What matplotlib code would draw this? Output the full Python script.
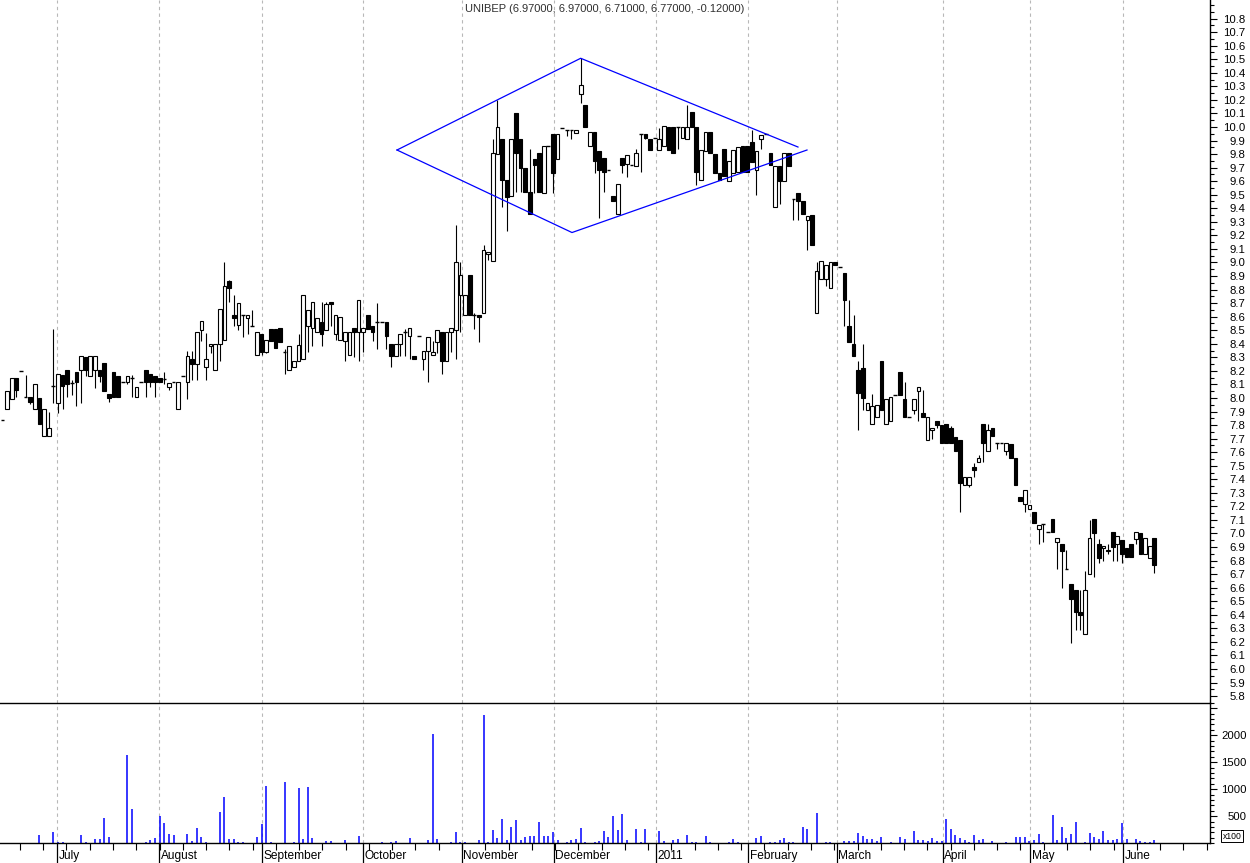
import matplotlib
matplotlib.use("Agg")
import matplotlib.pyplot as plt
import matplotlib.transforms as mtransforms
import numpy as np

plt.rcParams['font.family'] = ['Liberation Sans', 'DejaVu Sans']

title = "UNIBEP (6.97000, 6.97000, 6.71000, 6.77000, -0.12000)"

opens = [7.84, 7.92, 7.99, 8.15, 8.20, 8.01, 8.005, 7.92, 8.00, 7.72,
         7.72, 8.09, 7.96, 8.17, 8.21, 8.11, 8.19, 8.21, 8.30, 8.16,
         8.21, 8.21, 8.26, 8.03, 8.19, 8.16, 8.12, 8.12, 8.15, 8.01,
         8.12, 8.21, 8.18, 8.16, 8.15, 8.14, 8.08, 8.12, 7.92, 8.16,
         8.12, 8.29, 8.25, 8.50, 8.23, 8.38, 8.21, 8.40, 8.43, 8.86,
         8.61, 8.54, 8.61, 8.59, 8.53, 8.32, 8.47, 8.34, 8.51, 8.51,
         8.52, 8.34, 8.21, 8.23, 8.27, 8.29, 8.53, 8.52, 8.49, 8.56,
         8.50, 8.71, 8.47, 8.43, 8.42, 8.32, 8.52, 8.49, 8.49, 8.61,
         8.53, 8.56, 8.56, 8.56, 8.40, 8.31, 8.40, 8.49, 8.46, 8.31,
         8.46, 8.29, 8.35, 8.32, 8.41, 8.49, 8.27, 8.49, 8.50, 8.76,
         8.61, 8.91, 8.61, 8.61, 8.63, 9.06, 9.01, 9.80, 9.91, 9.61,
         9.49, 10.10, 9.91, 9.70, 9.52, 9.76, 9.81, 9.51, 9.86, 9.95,
         9.76, 9.99, 9.98, 9.98, 9.955, 10.24, 10.16, 9.86, 9.96, 9.82,
         9.77, 9.68, 9.49, 9.36, 9.77, 9.73, 9.72, 9.71, 9.95, 9.95,
         9.91, 9.92, 9.83, 9.86, 10.00, 10.00, 10.00, 9.92, 9.91, 10.11,
         10.00, 9.61, 9.82, 9.96, 9.80, 9.66, 9.84, 9.60, 9.66, 9.67,
         9.86, 9.86, 9.89, 9.68, 9.91, 9.95, 9.81, 9.41, 9.71, 9.60,
         9.81, 9.47, 9.51, 9.45, 9.31, 9.35, 8.63, 8.88, 8.88, 8.81,
         9.00, 8.97, 8.92, 8.53, 8.40, 8.21, 8.22, 7.91, 7.81, 7.86,
         8.27, 7.81, 7.83, 8.02, 8.19, 7.99, 7.86, 7.91, 8.05, 7.89,
         7.69, 7.76, 7.83, 7.80, 7.81, 7.78, 7.71, 7.69, 7.36, 7.36,
         7.49, 7.53, 7.81, 7.61, 7.78, 7.67, 7.67, 7.61, 7.66, 7.56,
         7.27, 7.22, 7.18, 7.16, 7.03, 7.07, 7.01, 7.11, 6.94, 6.92,
         6.74, 6.63, 6.58, 6.42, 6.26, 6.70, 7.11, 6.92, 6.89, 6.88,
         7.01, 6.92, 6.95, 6.89, 6.92, 6.96, 7.00, 6.85, 6.82, 6.97]

highs = [7.84, 8.05, 8.15, 8.15, 8.20, 8.17, 8.005, 8.10, 8.00, 7.92,
         7.90, 8.51, 8.18, 8.17, 8.21, 8.13, 8.19, 8.31, 8.30, 8.31,
         8.31, 8.21, 8.26, 8.03, 8.19, 8.16, 8.12, 8.16, 8.17, 8.08,
         8.12, 8.21, 8.18, 8.16, 8.15, 8.19, 8.11, 8.12, 8.12, 8.16,
         8.35, 8.35, 8.49, 8.57, 8.48, 8.40, 8.40, 8.66, 9.00, 8.87,
         8.76, 8.70, 8.61, 8.61, 8.65, 8.49, 8.47, 8.43, 8.51, 8.51,
         8.52, 8.36, 8.38, 8.27, 8.47, 8.76, 8.65, 8.71, 8.59, 8.71,
         8.71, 8.71, 8.61, 8.60, 8.49, 8.49, 8.52, 8.72, 8.52, 8.61,
         8.53, 8.70, 8.56, 8.56, 8.40, 8.40, 8.47, 8.51, 8.52, 8.31,
         8.46, 8.35, 8.45, 8.42, 8.50, 8.49, 8.49, 8.52, 9.28, 9.00,
         8.76, 8.91, 8.63, 8.61, 9.13, 9.08, 9.91, 10.20, 9.91, 9.61,
         9.91, 10.10, 9.91, 9.70, 9.84, 9.76, 9.81, 9.86, 9.86, 9.95,
         9.95, 9.99, 9.98, 9.98, 9.98, 10.51, 10.16, 9.96, 9.96, 9.82,
         9.77, 9.68, 9.49, 9.58, 9.77, 9.79, 9.72, 9.84, 9.95, 9.95,
         9.91, 9.92, 9.99, 10.01, 10.00, 10.00, 10.00, 10.00, 10.16, 10.11,
         10.00, 9.83, 9.96, 9.96, 9.80, 9.66, 9.84, 9.75, 9.83, 9.85,
         9.86, 9.86, 9.98, 9.82, 9.94, 9.95, 9.81, 9.71, 9.71, 9.81,
         9.81, 9.47, 9.51, 9.45, 9.34, 9.35, 9.00, 9.01, 8.98, 9.00,
         9.00, 8.97, 8.92, 8.72, 8.61, 8.27, 8.40, 7.96, 8.03, 7.95,
         8.27, 7.99, 8.01, 8.02, 8.19, 8.12, 7.86, 7.99, 8.08, 8.06,
         7.86, 7.78, 7.83, 7.80, 7.81, 7.79, 7.71, 7.69, 7.42, 7.42,
         7.52, 7.58, 7.81, 7.81, 7.78, 7.67, 7.67, 7.67, 7.66, 7.56,
         7.27, 7.32, 7.21, 7.16, 7.06, 7.07, 7.01, 7.11, 6.97, 6.92,
         6.88, 6.63, 6.58, 6.58, 6.72, 7.10, 7.11, 6.96, 6.91, 6.92,
         7.01, 6.98, 6.95, 6.89, 6.92, 7.01, 7.00, 6.97, 6.91, 6.97]

lows = [7.84, 7.92, 7.99, 8.01, 8.20, 8.01, 7.956, 7.92, 7.81, 7.72,
        7.72, 7.96, 7.89, 7.92, 8.01, 8.02, 7.94, 7.96, 8.16, 8.16,
        8.07, 8.12, 8.05, 7.97, 8.01, 8.01, 8.12, 8.10, 8.01, 8.01,
        8.12, 8.01, 8.08, 8.01, 8.12, 8.10, 8.06, 8.12, 7.92, 8.16,
        7.99, 8.13, 8.13, 8.42, 8.13, 8.33, 8.21, 8.27, 8.43, 8.71,
        8.53, 8.50, 8.45, 8.47, 8.53, 8.32, 8.32, 8.33, 8.42, 8.37,
        8.41, 8.18, 8.21, 8.23, 8.27, 8.29, 8.34, 8.38, 8.49, 8.38,
        8.50, 8.53, 8.43, 8.43, 8.27, 8.32, 8.30, 8.27, 8.34, 8.51,
        8.42, 8.36, 8.56, 8.36, 8.23, 8.31, 8.31, 8.31, 8.29, 8.29,
        8.46, 8.21, 8.12, 8.32, 8.33, 8.18, 8.27, 8.34, 8.29, 8.49,
        8.61, 8.61, 8.51, 8.41, 8.63, 9.02, 9.01, 9.80, 9.41, 9.23,
        9.49, 9.52, 9.52, 9.52, 9.36, 9.51, 9.52, 9.51, 9.86, 9.51,
        9.76, 9.99, 9.93, 9.91, 9.955, 10.18, 10.00, 9.86, 9.66, 9.33,
        9.52, 9.68, 9.45, 9.36, 9.66, 9.63, 9.72, 9.71, 9.67, 9.91,
        9.83, 9.92, 9.83, 9.86, 9.83, 9.81, 9.84, 9.92, 9.91, 10.00,
        9.57, 9.61, 9.82, 9.81, 9.66, 9.61, 9.64, 9.60, 9.66, 9.67,
        9.67, 9.67, 9.74, 9.50, 9.84, 9.95, 9.72, 9.41, 9.43, 9.60,
        9.71, 9.31, 9.31, 9.36, 9.09, 9.13, 8.63, 8.88, 8.83, 8.81,
        8.98, 8.97, 8.53, 8.41, 8.31, 7.76, 7.91, 7.91, 7.81, 7.86,
        7.91, 7.81, 7.83, 8.02, 8.02, 7.86, 7.86, 7.88, 7.83, 7.86,
        7.69, 7.70, 7.78, 7.67, 7.67, 7.67, 7.61, 7.16, 7.36, 7.34,
        7.42, 7.53, 7.53, 7.61, 7.72, 7.62, 7.67, 7.58, 7.56, 7.36,
        7.24, 7.16, 7.18, 7.08, 6.92, 6.94, 7.01, 7.01, 6.74, 6.60,
        6.74, 6.19, 6.29, 6.29, 6.26, 6.70, 6.68, 6.78, 6.80, 6.85,
        6.80, 6.80, 6.78, 6.83, 6.83, 6.92, 6.85, 6.85, 6.82, 6.71]

closes = [7.84, 8.05, 8.15, 8.06, 8.20, 8.01, 7.973, 8.10, 7.81, 7.92,
          7.78, 8.09, 8.18, 8.09, 8.10, 8.11, 8.12, 8.31, 8.21, 8.31,
          8.31, 8.16, 8.05, 8.00, 8.01, 8.01, 8.12, 8.16, 8.15, 8.08,
          8.12, 8.12, 8.12, 8.12, 8.12, 8.14, 8.11, 8.12, 8.12, 8.16,
          8.31, 8.25, 8.49, 8.57, 8.29, 8.40, 8.40, 8.66, 8.83, 8.81,
          8.59, 8.70, 8.61, 8.61, 8.53, 8.49, 8.34, 8.43, 8.42, 8.37,
          8.41, 8.34, 8.38, 8.27, 8.39, 8.76, 8.65, 8.71, 8.59, 8.47,
          8.69, 8.69, 8.61, 8.60, 8.49, 8.49, 8.49, 8.72, 8.52, 8.51,
          8.49, 8.56, 8.56, 8.46, 8.31, 8.40, 8.47, 8.49, 8.52, 8.29,
          8.46, 8.35, 8.45, 8.34, 8.50, 8.27, 8.49, 8.52, 9.00, 8.91,
          8.76, 8.61, 8.61, 8.60, 9.09, 9.08, 9.81, 10.00, 9.61, 9.48,
          9.91, 9.81, 9.70, 9.52, 9.36, 9.72, 9.52, 9.86, 9.86, 9.66,
          9.95, 9.99, 9.98, 9.98, 9.98, 10.31, 10.00, 9.96, 9.75, 9.68,
          9.67, 9.68, 9.45, 9.58, 9.72, 9.79, 9.72, 9.81, 9.95, 9.92,
          9.83, 9.92, 9.91, 10.01, 9.83, 9.81, 10.00, 10.00, 10.00, 10.00,
          9.67, 9.83, 9.96, 9.81, 9.66, 9.61, 9.64, 9.75, 9.83, 9.85,
          9.67, 9.67, 9.74, 9.82, 9.94, 9.95, 9.72, 9.71, 9.60, 9.81,
          9.71, 9.47, 9.45, 9.36, 9.34, 9.13, 8.94, 9.01, 8.98, 9.00,
          8.98, 8.97, 8.72, 8.41, 8.31, 8.04, 8.00, 7.96, 7.94, 7.95,
          7.91, 7.99, 8.01, 8.02, 8.02, 7.86, 7.86, 7.99, 8.08, 7.86,
          7.86, 7.78, 7.80, 7.67, 7.67, 7.67, 7.61, 7.37, 7.42, 7.42,
          7.47, 7.56, 7.67, 7.76, 7.72, 7.67, 7.67, 7.67, 7.56, 7.36,
          7.24, 7.32, 7.21, 7.08, 7.06, 7.07, 7.01, 7.01, 6.97, 6.87,
          6.74, 6.52, 6.42, 6.40, 6.58, 6.97, 7.00, 6.82, 6.91, 6.87,
          6.90, 6.98, 6.85, 6.83, 6.83, 7.01, 6.85, 6.97, 6.91, 6.77]

vol_idx = [8, 11, 12, 13, 17, 18, 20, 21, 22, 23, 27, 28, 31, 32, 33, 34, 35, 36, 37,
           40, 41, 42, 43, 44, 47, 48, 49, 50, 51, 52, 55, 56, 57, 58, 61, 63, 64, 65,
           66, 67, 70, 71, 74, 77, 82, 84, 85, 88, 92, 93, 94, 97, 98, 99, 100, 103,
           104, 105, 106, 107, 108, 109, 110, 111, 112, 113, 114, 115, 116, 117, 118,
           119, 120, 122, 123, 124, 125, 126, 128, 129, 130, 131, 132, 133, 134, 135,
           137, 138, 139, 142, 143, 145, 146, 148, 149, 150, 152, 153, 157, 158, 159,
           163, 164, 166, 167, 168, 169, 170, 171, 173, 174, 176, 178, 179, 182, 183,
           184, 185, 186, 187, 188, 189, 190, 192, 194, 195, 197, 198, 199, 200, 201,
           202, 203, 204, 205, 206, 207, 208, 209, 210, 211, 212, 214, 217, 219, 220,
           221, 222, 223, 224, 225, 227, 228, 229, 230, 231, 232, 234, 235, 236, 237,
           238, 239, 240, 241, 242, 243, 245, 246, 247, 248, 249]
vol_val = [154, 209, 30, 18, 154, 18, 80, 80, 474, 117, 1633, 635, 18, 62, 105, 505, 376, 166, 154,
           172, 43, 283, 117, 18, 580, 857, 80, 80, 30, 30, 117, 357, 1060, 18, 1134, 18, 1023, 80,
           1042, 99, 43, 43, 62, 136, 18, 18, 43, 99, 62, 2022, 80, 18, 209, 18, 18, 62,
           2374, 18, 246, 105, 450, 62, 302, 431, 62, 117, 136, 136, 394, 136, 136,
           209, 62, 18, 62, 80, 283, 18, 18, 43, 228, 117, 505, 246, 542, 62,
           265, 18, 265, 228, 43, 62, 80, 154, 18, 18, 136, 18, 18, 80, 18,
           99, 136, 18, 18, 62, 99, 18, 18, 302, 265, 561, 18, 18, 43, 43,
           43, 191, 136, 80, 80, 43, 117, 18, 117, 80, 228, 62, 62, 43, 99,
           43, 43, 450, 265, 154, 99, 62, 18, 154, 62, 80, 43, 18, 117, 117,
           117, 43, 62, 172, 18, 524, 62, 302, 99, 172, 394, 18, 191, 117, 80,
           228, 62, 62, 80, 376, 80, 80, 43, 18, 18, 62]

month_labels = ["July", "August", "September", "October", "November", "December",
                "2011", "February", "March", "April", "May", "June"]
month_pos = [11.86, 33.9, 56.04, 78.0, 99.27, 119.16, 141.2, 161.23, 180.3, 203.25, 222.2, 242.3]

# diamond pattern (bar index, price)
diamond_x = [85.29, 125.0, 171.97]
diamond_y = [9.83, 10.507, 9.852]
diamond_x2 = [85.29, 123.12, 173.92]
diamond_y2 = [9.83, 9.221, 9.83]

assert len(opens) == len(highs) == len(lows) == len(closes) == 250
assert len(vol_idx) == len(vol_val)

W, H = 1250, 863
fig = plt.figure(figsize=(W / 100, H / 100), dpi=100)
fig.patch.set_facecolor('white')

axr = 1210 / W
ax = fig.add_axes([0, (H - 703) / H, axr, 703 / H])
axv = fig.add_axes([0, (H - 843.3) / H, axr, 140.3 / H], sharex=ax)

xmin, xmax = -0.53, 261.04
ax.set_xlim(xmin, xmax)
ax.set_ylim(5.749, 10.937)
axv.set_ylim(0, 2596)

x = np.arange(len(opens))
o = np.array(opens); c = np.array(closes); hi = np.array(highs); lo = np.array(lows)

# grid lines (month separators)
for a in (ax, axv):
    for mp in month_pos:
        a.axvline(mp, color='#b8b8b8', lw=0.8, ls=(0, (3, 3)), zorder=0)

# wicks
ax.vlines(x, lo, hi, color='black', lw=0.8, zorder=1)

bw = 0.8
doji = np.abs(c - o) < 0.004
up = (c > o) & ~doji
dn = (c < o) & ~doji
ax.bar(x[up], (c - o)[up], bottom=o[up], width=bw, facecolor='white',
       edgecolor='black', linewidth=0.8, zorder=2)
ax.bar(x[dn], (o - c)[dn], bottom=c[dn], width=bw, facecolor='black',
       edgecolor='black', linewidth=0.8, zorder=2)
ax.hlines(o[doji], x[doji] - bw / 2, x[doji] + bw / 2, color='black', lw=1.0, zorder=2)

# diamond
ax.plot(diamond_x, diamond_y, color='#0000ff', lw=0.9, zorder=3)
ax.plot(diamond_x2, diamond_y2, color='#0000ff', lw=0.9, zorder=3)

# volume
axv.vlines(vol_idx, 0, vol_val, color='#0000ff', lw=1.1, zorder=2)

# spines
for a in (ax, axv):
    a.spines['left'].set_visible(False)
    a.spines['top'].set_visible(False)
    a.spines['right'].set_linewidth(1.0)
    a.spines['bottom'].set_linewidth(1.0)
    a.set_facecolor('none')

# price axis ticks
ax.yaxis.tick_right()
ax.set_yticks(np.round(np.arange(5.8, 10.81, 0.1), 2))
ax.set_yticks(np.round(np.arange(5.75, 10.91, 0.05), 2), minor=True)
ax.set_yticklabels([f"{v:.1f}" for v in np.arange(5.8, 10.81, 0.1)])
ax.tick_params(axis='y', which='major', direction='out', length=5, width=0.8,
               labelsize=8.2, pad=20.5, colors='black')
ax.tick_params(axis='y', which='minor', direction='out', length=2.8, width=0.8)
for lbl in ax.get_yticklabels():
    lbl.set_horizontalalignment('right')
ax.tick_params(axis='x', which='both', bottom=False, labelbottom=False)

# volume axis ticks
axv.yaxis.tick_right()
axv.set_yticks([500, 1000, 1500, 2000, 2500])
axv.set_yticklabels(["500", "1000", "1500", "2000", ""])
axv.set_yticks(np.arange(0, 2600, 100), minor=True)
axv.tick_params(axis='y', which='major', direction='out', length=5, width=0.8,
                labelsize=8.2, pad=21.5)
axv.tick_params(axis='y', which='minor', direction='out', length=2.8, width=0.8)
for lbl in axv.get_yticklabels():
    lbl.set_horizontalalignment('right')

axv.set_xticks(month_pos)
axv.set_xticks(np.arange(3.77, 261, 5.03), minor=True)
axv.tick_params(axis='x', which='major', direction='out', length=15, width=0.9,
                labelbottom=False)
axv.tick_params(axis='x', which='minor', direction='out', length=5, width=0.8)

trans = mtransforms.blended_transform_factory(axv.transData, axv.transAxes)
for mp, lab in zip(month_pos, month_labels):
    axv.text(mp + 0.35, -0.092, lab, transform=trans, ha='left', va='center',
             fontsize=8.6, color='black')

axv.text(1.0105, 0.05, "x100", transform=axv.transAxes, ha='left', va='center',
         fontsize=6.2, color='black',
         bbox=dict(boxstyle='square,pad=0.18', fc='white', ec='black', lw=0.7))

fig.text(605 / W, 1 - 9.5 / H, title, ha='center', va='center', fontsize=8, color='#303030')

fig.savefig("out.png", dpi=100, facecolor='white')
